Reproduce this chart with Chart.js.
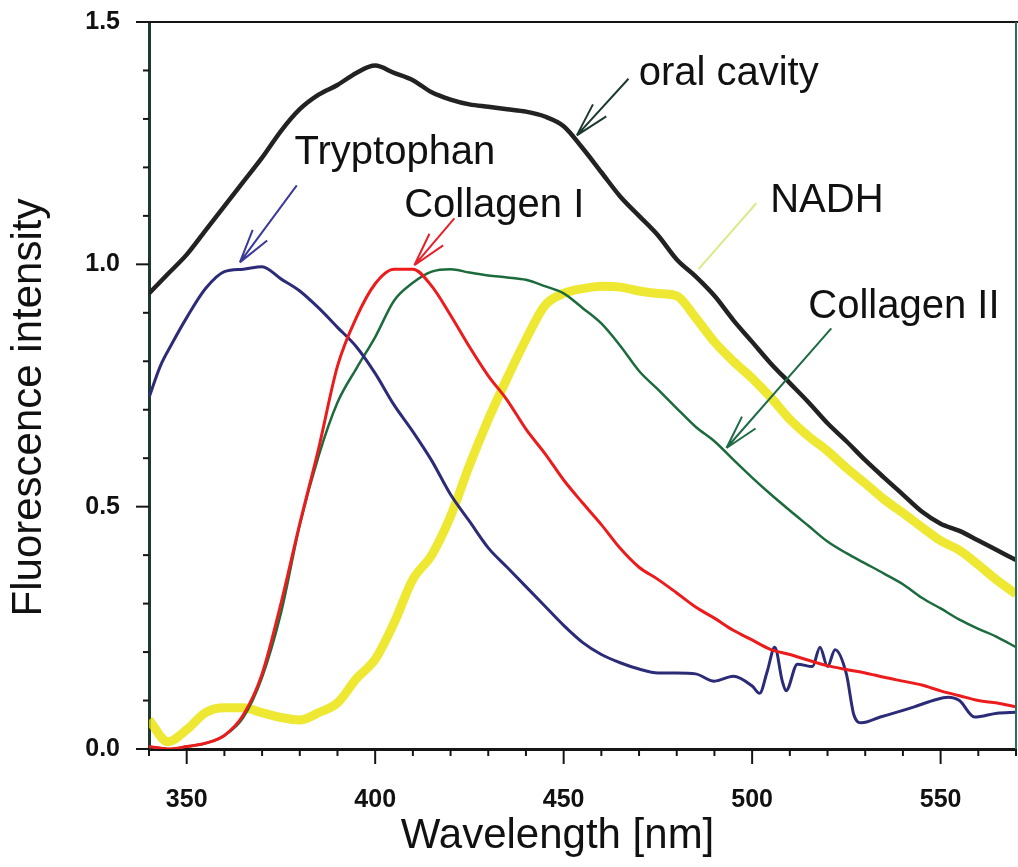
<!DOCTYPE html>
<html>
<head>
<meta charset="utf-8">
<title>Fluorescence spectra</title>
<script src="https://cdn.jsdelivr.net/npm/chart.js@4.4.3/dist/chart.umd.min.js"></script>
<style>
  html, body { margin: 0; padding: 0; background: #fff; }
  #wrap { width: 1018px; height: 867px; }
</style>
</head>
<body>
<div id="wrap"><canvas id="chart" width="1018" height="867"></canvas></div>
<script>
// wavelength grid (nm) shared by the smooth spectra
const wavelengths = [340, 345, 350, 355, 360, 365, 370, 375, 380, 385, 390, 395, 400, 405, 410, 415,
  420, 425, 430, 435, 440, 445, 450, 455, 460, 465, 470, 475, 480, 485, 490, 495, 500, 505, 510,
  515, 520, 525, 530, 535, 540, 545, 550, 555, 560, 565, 570];

const oralCavity = [0.94, 0.98, 1.02, 1.07, 1.12, 1.17, 1.22, 1.275, 1.32, 1.35, 1.37, 1.395, 1.41,
  1.395, 1.38, 1.355, 1.34, 1.33, 1.325, 1.32, 1.315, 1.305, 1.285, 1.24, 1.19, 1.14, 1.10, 1.06,
  1.01, 0.975, 0.935, 0.885, 0.84, 0.795, 0.755, 0.715, 0.672, 0.635, 0.596, 0.56, 0.525, 0.49,
  0.465, 0.45, 0.43, 0.41, 0.39];

const collagenI = [0.005, 0.0, 0.005, 0.012, 0.028, 0.07, 0.155, 0.30, 0.465, 0.62, 0.79, 0.89, 0.96,
  0.99, 0.99, 0.955, 0.895, 0.83, 0.77, 0.72, 0.66, 0.61, 0.555, 0.508, 0.463, 0.414, 0.375, 0.35,
  0.322, 0.293, 0.27, 0.245, 0.225, 0.205, 0.195, 0.183, 0.172, 0.164, 0.157, 0.148, 0.14, 0.132,
  0.12, 0.11, 0.1, 0.095, 0.087];

const collagenII = [0.005, 0.0, 0.005, 0.012, 0.028, 0.065, 0.148, 0.28, 0.462, 0.605, 0.715, 0.785,
  0.85, 0.925, 0.962, 0.985, 0.99, 0.983, 0.977, 0.973, 0.968, 0.955, 0.94, 0.91, 0.878, 0.832,
  0.78, 0.742, 0.703, 0.665, 0.635, 0.597, 0.56, 0.525, 0.492, 0.46, 0.428, 0.404, 0.383, 0.362,
  0.34, 0.312, 0.29, 0.267, 0.248, 0.231, 0.21];

const nadh = [0.06, 0.015, 0.04, 0.075, 0.085, 0.085, 0.075, 0.065, 0.06, 0.075, 0.095, 0.145, 0.185,
  0.26, 0.35, 0.40, 0.48, 0.585, 0.68, 0.765, 0.845, 0.915, 0.94, 0.95, 0.955, 0.953, 0.945, 0.94,
  0.935, 0.89, 0.84, 0.80, 0.765, 0.725, 0.68, 0.645, 0.615, 0.58, 0.548, 0.515, 0.487, 0.458,
  0.43, 0.41, 0.38, 0.348, 0.32];

// tryptophan has a spiky tail, so it gets its own finer grid
const trpNm = [340, 343, 346, 350, 355, 360, 365, 370, 375, 380, 385, 390, 395, 400, 405, 410, 415,
  420, 425, 430, 435, 440, 445, 450, 455, 460, 465, 470, 475, 480, 485, 490, 495, 500, 502, 504,
  506, 508, 509, 512, 516, 518, 520, 522, 525, 527, 529, 534, 538, 543, 548, 552, 555, 559, 565, 570];
const tryptophan = [0.725, 0.79, 0.835, 0.89, 0.95, 0.985, 0.99, 0.995, 0.97, 0.945, 0.91, 0.87,
  0.83, 0.775, 0.71, 0.655, 0.595, 0.525, 0.47, 0.415, 0.375, 0.335, 0.295, 0.255, 0.22, 0.195,
  0.178, 0.165, 0.157, 0.157, 0.155, 0.14, 0.15, 0.13, 0.115, 0.16, 0.21, 0.14, 0.12, 0.175, 0.17,
  0.21, 0.17, 0.205, 0.155, 0.07, 0.054, 0.066, 0.075, 0.087, 0.1, 0.107, 0.1, 0.066, 0.074, 0.076];

const yMajor = [0, 0.5, 1.0, 1.5];
const xMajor = [350, 400, 450, 500, 550];

function pts(xs, ys) {
  return xs.map((x, i) => ({ x: x, y: ys[i] }));
}

// labels with arrows, given in data coordinates
const notes = [
  { text: 'oral cavity', at: [469.9, 1.37], from: [467.2, 1.383], to: [453.5, 1.266], color: '#1d3a30', head: true },
  { text: 'Tryptophan', at: [378.6, 1.208], from: [379.2, 1.163], to: [364.1, 1.004], color: '#3a3a9a', head: true },
  { text: 'Collagen I', at: [407.7, 1.097], from: [421.0, 1.095], to: [410.4, 0.998], color: '#e8202a', head: true },
  { text: 'NADH', at: [504.8, 1.107], from: [501.1, 1.126], to: [485.8, 0.99], color: '#dde88a', head: false },
  { text: 'Collagen II', at: [514.9, 0.889], from: [521.0, 0.868], to: [493.2, 0.621], color: '#1f6b45', head: true }
];

// the plot box must not grow extra room for overhanging tick labels
function noPad(s) {
  s.paddingLeft = 0;
  s.paddingRight = 0;
  s.paddingTop = 0;
  s.paddingBottom = 0;
}

const decor = {
  id: 'decor',
  afterDraw(chart) {
    const ctx = chart.ctx;
    const xs = chart.scales.x, ys = chart.scales.y;
    const a = chart.chartArea;
    ctx.save();

    // frame top and right
    ctx.strokeStyle = '#151515';
    ctx.lineWidth = 2;
    ctx.beginPath();
    ctx.moveTo(a.left, a.top);
    ctx.lineTo(a.right + 2, a.top);
    ctx.stroke();
    ctx.strokeStyle = '#2f6e5e';
    ctx.beginPath();
    ctx.moveTo(a.right, a.top);
    ctx.lineTo(a.right, a.bottom);
    ctx.stroke();

    // tick marks, major and minor
    ctx.strokeStyle = '#151515';
    ctx.lineWidth = 2;
    ys.ticks.forEach(t => {
      const y = ys.getPixelForValue(t.value);
      const big = yMajor.some(m => Math.abs(m - t.value) < 1e-6);
      ctx.beginPath();
      ctx.moveTo(a.left - (big ? 13 : 6), y);
      ctx.lineTo(a.left, y);
      ctx.stroke();
    });
    xs.ticks.forEach(t => {
      const x = xs.getPixelForValue(t.value);
      const big = xMajor.includes(t.value);
      ctx.beginPath();
      ctx.moveTo(x, a.bottom);
      ctx.lineTo(x, a.bottom + (big ? 15 : 7));
      ctx.stroke();
    });

    // axis titles
    ctx.fillStyle = '#111';
    ctx.font = '42px "Liberation Sans", Arial, sans-serif';
    ctx.textAlign = 'center';
    ctx.textBaseline = 'alphabetic';
    ctx.fillText('Wavelength [nm]', (a.left + a.right) / 2 - 25, a.bottom + 99);
    ctx.save();
    ctx.translate(41, (a.top + a.bottom) / 2 + 22);
    ctx.rotate(-Math.PI / 2);
    ctx.fillText('Fluorescence intensity', 0, 0);
    ctx.restore();

    // annotations
    ctx.textAlign = 'left';
    ctx.font = '40px "Liberation Sans", Arial, sans-serif';
    notes.forEach(n => {
      const x1 = xs.getPixelForValue(n.from[0]), y1 = ys.getPixelForValue(n.from[1]);
      const x2 = xs.getPixelForValue(n.to[0]), y2 = ys.getPixelForValue(n.to[1]);
      ctx.strokeStyle = n.color;
      ctx.lineWidth = 2;
      ctx.beginPath();
      ctx.moveTo(x1, y1);
      ctx.lineTo(x2, y2);
      if (n.head) {
        const ang = Math.atan2(y1 - y2, x1 - x2);
        [-0.26, 0.26].forEach(d => {
          ctx.moveTo(x2, y2);
          ctx.lineTo(x2 + 35 * Math.cos(ang + d), y2 + 35 * Math.sin(ang + d));
        });
      }
      ctx.stroke();
      ctx.fillStyle = '#111';
      ctx.fillText(n.text, xs.getPixelForValue(n.at[0]), ys.getPixelForValue(n.at[1]));
    });
    ctx.restore();
  }
};

Chart.defaults.font.family = '"Liberation Sans", Arial, sans-serif';
Chart.defaults.color = '#111';

new Chart(document.getElementById('chart'), {
  type: 'line',
  data: {
    datasets: [
      { label: 'oral cavity', data: pts(wavelengths, oralCavity), borderColor: '#222222', borderWidth: 4.5, order: 1 },
      { label: 'Collagen I', data: pts(wavelengths, collagenI), borderColor: '#ec1c1c', borderWidth: 3, order: 2 },
      { label: 'Tryptophan', data: pts(trpNm, tryptophan), borderColor: '#2b2b78', borderWidth: 3, order: 3, tension: 0.2 },
      { label: 'Collagen II', data: pts(wavelengths, collagenII), borderColor: '#1b6b3c', borderWidth: 2.5, order: 4 },
      { label: 'NADH', data: pts(wavelengths, nadh), borderColor: 'rgba(234,226,0,0.8)', borderWidth: 9, order: 5 }
    ]
  },
  options: {
    responsive: false,
    animation: false,
    events: [],
    layout: { padding: { top: 22, right: 2, left: 0, bottom: 0 } },
    elements: {
      point: { radius: 0 },
      line: { tension: 0.35, cubicInterpolationMode: 'monotone', borderJoinStyle: 'round' }
    },
    plugins: { legend: { display: false }, tooltip: { enabled: false } },
    scales: {
      x: {
        type: 'linear',
        min: 340,
        max: 570,
        grid: { display: false, drawTicks: false },
        border: { display: true, color: '#151515', width: 3 },
        ticks: {
          stepSize: 10,
          autoSkip: false,
          maxRotation: 0,
          padding: 36,
          font: { size: 25, weight: 'bold' },
          callback: v => xMajor.includes(v) ? String(v) : ''
        },
        afterFit: s => { s.height = 118; noPad(s); }
      },
      y: {
        min: 0,
        max: 1.5,
        grid: { display: false, drawTicks: false },
        border: { display: true, color: '#1c3a32', width: 3 },
        ticks: {
          stepSize: 0.1,
          autoSkip: false,
          padding: 29,
          font: { size: 25, weight: 'bold' },
          callback: v => yMajor.some(m => Math.abs(m - v) < 1e-6) ? v.toFixed(1) : ''
        },
        afterFit: s => { s.width = 149; noPad(s); }
      }
    }
  },
  plugins: [decor]
});
</script>
</body>
</html>
